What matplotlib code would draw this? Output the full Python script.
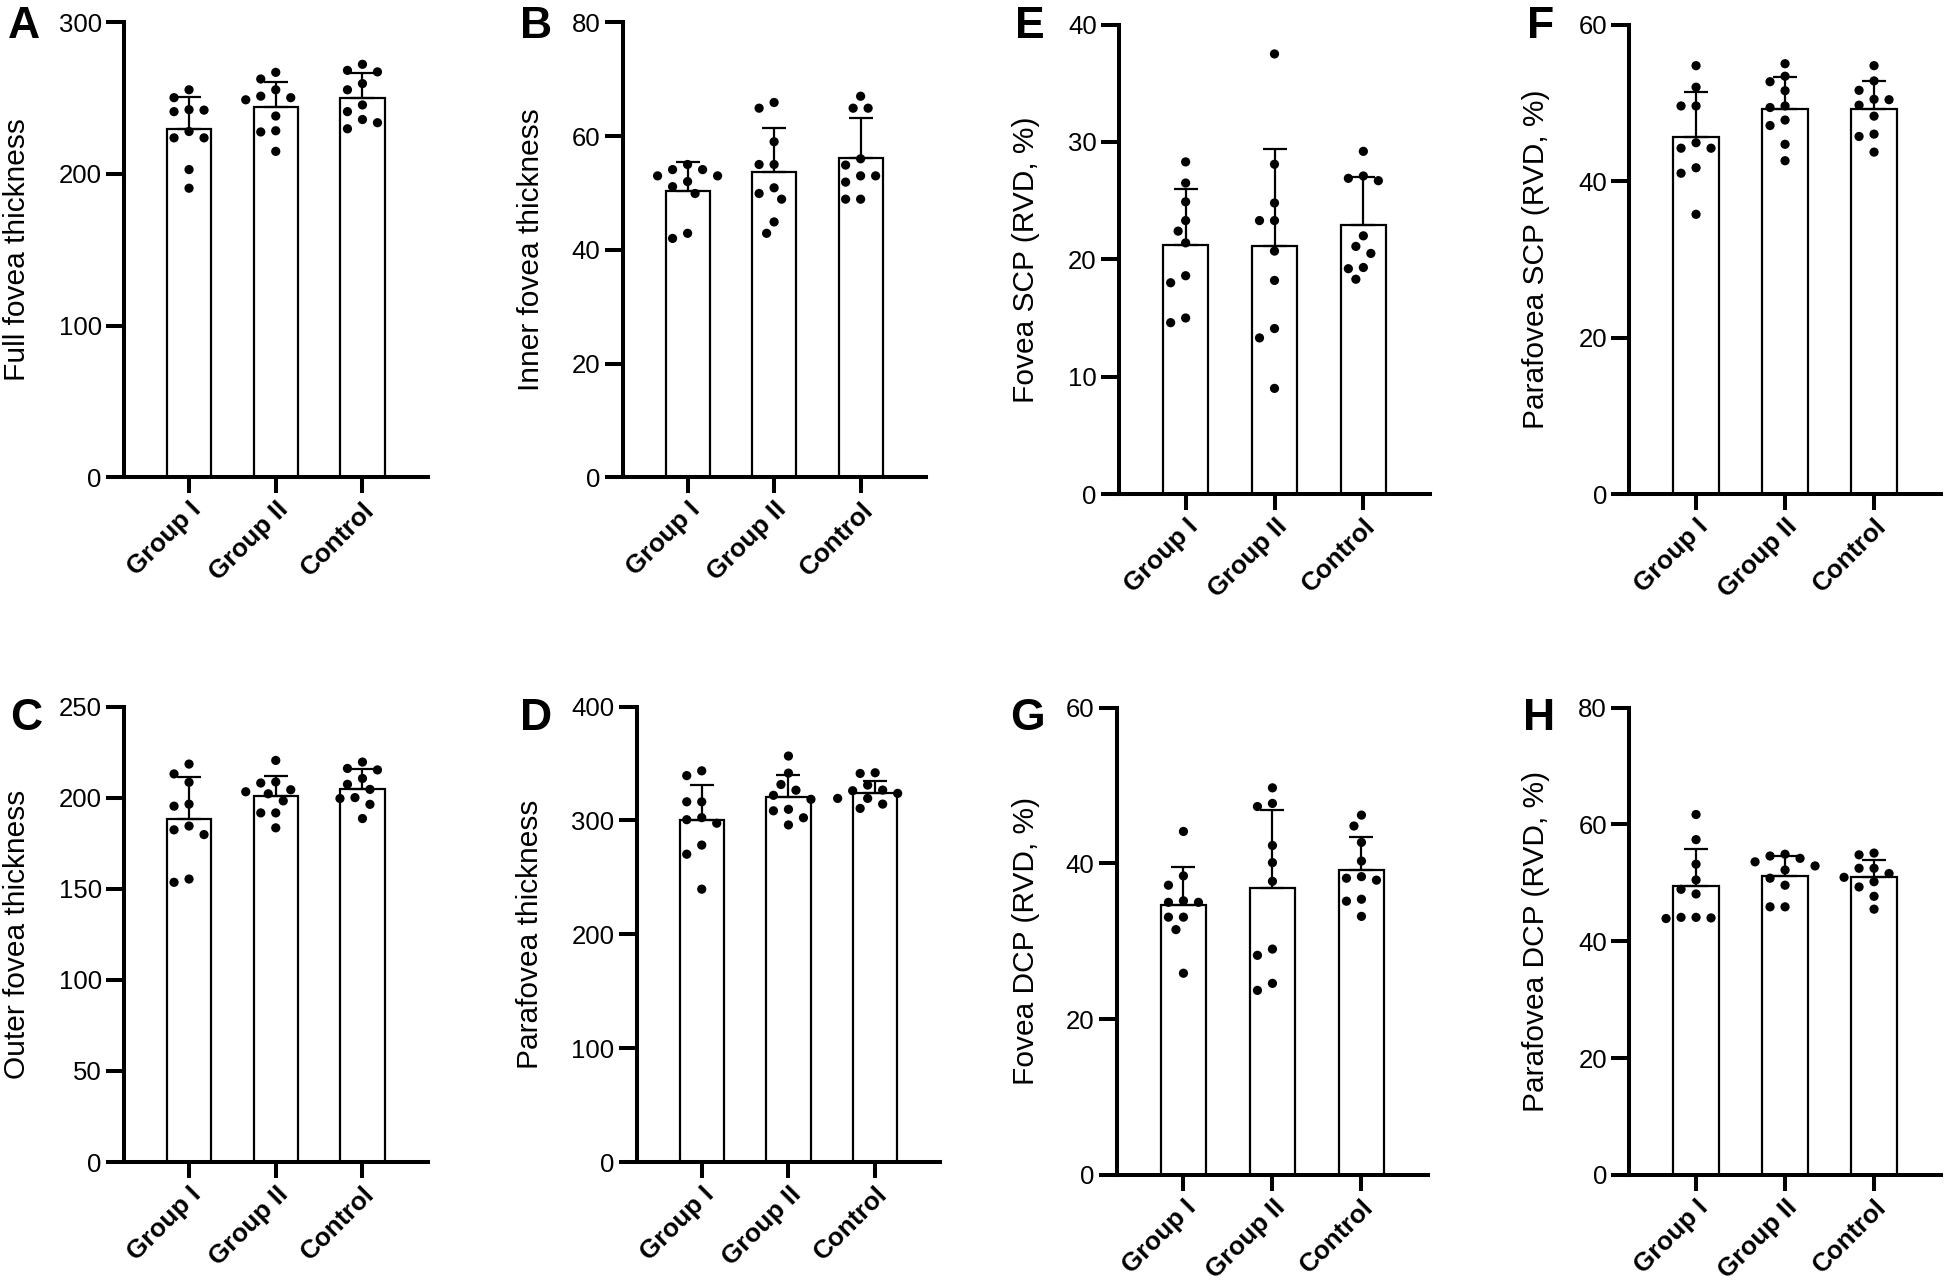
import matplotlib
matplotlib.use("Agg")
import matplotlib.pyplot as plt
import numpy as np

plt.rcParams['font.family'] = ['Liberation Sans', 'DejaVu Sans']

groups = ["Group I", "Group II", "Control"]

# ---- data ----
A_points = [[255.5, 250.3, 242.4, 242.1, 241.1, 228.0, 223.8, 223.8, 202.9, 190.6],
            [267.0, 262.6, 255.5, 251.3, 250.3, 248.9, 238.2, 228.5, 227.7, 214.9],
            [272.3, 268.3, 267.3, 259.6, 255.5, 245.5, 241.1, 235.9, 233.8, 229.8]]
A_mean = [229.8, 244.2, 250.3]
A_sd = [21.0, 16.5, 16.2]

B_points = [[55.0, 54.1, 54.1, 53.0, 53.0, 52.0, 51.1, 49.9, 42.9, 42.0],
            [65.9, 64.9, 59.0, 55.0, 55.0, 50.9, 49.9, 48.9, 44.9, 42.9],
            [67.0, 64.9, 64.9, 56.0, 54.9, 53.0, 53.0, 51.9, 48.9, 48.9]]
B_mean = [50.4, 53.7, 56.1]
B_sd = [5.0, 7.8, 7.1]

E_points = [[28.3, 26.5, 24.9, 23.3, 22.4, 21.4, 18.6, 18.0, 15.0, 14.6],
            [37.5, 28.1, 24.8, 23.3, 23.3, 20.7, 18.2, 14.1, 13.3, 9.0],
            [29.2, 27.1, 26.9, 26.7, 22.0, 21.1, 20.5, 19.3, 19.2, 18.3]]
E_mean = [21.2, 21.1, 22.9]
E_sd = [4.8, 8.3, 4.15]

F_points = [[54.75, 52.0, 49.6, 49.6, 44.9, 44.2, 44.2, 41.7, 41.0, 35.75],
            [55.0, 53.4, 52.7, 51.55, 49.6, 49.4, 47.8, 47.1, 44.7, 42.6],
            [54.75, 52.8, 51.6, 50.45, 50.4, 49.7, 48.3, 46.0, 45.7, 43.7]]
F_mean = [45.6, 49.2, 49.2]
F_sd = [5.8, 4.1, 3.6]

C_points = [[218.4, 213.0, 208.4, 196.4, 195.3, 184.4, 182.3, 179.7, 155.3, 153.5],
            [220.4, 208.6, 208.0, 204.3, 203.2, 202.1, 198.2, 191.6, 191.6, 183.4],
            [219.5, 216.0, 215.2, 210.5, 207.3, 204.5, 200.0, 199.5, 196.3, 188.5]]
C_mean = [188.4, 200.8, 204.7]
C_sd = [22.8, 11.1, 10.9]

D_points = [[343.5, 339.3, 316.3, 316.3, 302.4, 300.6, 297.5, 278.3, 270.3, 239.6],
            [356.5, 341.5, 331.5, 326.5, 322.0, 318.5, 309.7, 308.4, 302.3, 296.0],
            [341.8, 341.2, 331.0, 326.6, 326.0, 323.7, 319.3, 319.3, 314.3, 310.5]]
D_mean = [299.9, 320.2, 324.2]
D_sd = [31.4, 19.6, 10.6]

G_points = [[44.1, 38.4, 37.2, 35.2, 35.0, 35.0, 33.1, 33.1, 31.5, 25.9],
            [49.7, 47.7, 47.3, 42.3, 40.1, 37.7, 29.0, 28.2, 24.6, 23.7],
            [46.2, 44.8, 42.7, 40.3, 38.3, 38.1, 37.85, 35.4, 35.15, 33.2]]
G_mean = [34.7, 36.9, 39.1]
G_sd = [4.8, 10.0, 4.35]

H_points = [[61.7, 57.4, 53.2, 50.5, 48.9, 48.1, 44.1, 44.1, 44.0, 43.9],
            [54.9, 54.6, 54.2, 53.6, 52.9, 52.2, 50.8, 49.6, 45.9, 45.9],
            [55.1, 54.8, 52.5, 52.5, 51.6, 50.95, 50.2, 49.3, 47.7, 45.5]]
H_mean = [49.4, 51.2, 51.0]
H_sd = [6.35, 3.4, 2.95]

ylabels = {"A": "Full fovea thickness", "B": "Inner fovea thickness",
           "C": "Outer fovea thickness", "D": "Parafovea thickness",
           "E": "Fovea SCP (RVD, %)", "F": "Parafovea SCP (RVD, %)",
           "G": "Fovea DCP (RVD, %)", "H": "Parafovea DCP (RVD, %)"}
yticks = {"A": [0, 100, 200, 300], "B": [0, 20, 40, 60, 80],
          "C": [0, 50, 100, 150, 200, 250], "D": [0, 100, 200, 300, 400],
          "E": [0, 10, 20, 30, 40], "F": [0, 20, 40, 60],
          "G": [0, 20, 40, 60], "H": [0, 20, 40, 60, 80]}
data = {"A": (A_points, A_mean, A_sd), "B": (B_points, B_mean, B_sd),
        "C": (C_points, C_mean, C_sd), "D": (D_points, D_mean, D_sd),
        "E": (E_points, E_mean, E_sd), "F": (F_points, F_mean, F_sd),
        "G": (G_points, G_mean, G_sd), "H": (H_points, H_mean, H_sd)}

# ---- layout (pixels in 1944x1282 figure) ----
W, H = 1944, 1282
layout = {  # left, width, top, bottom, ylabel offset, letter x, letter y
    "A": (124.0, 303.5, 22.3, 477.3, 93, 8, 6),
    "B": (622.7, 302.8, 22.3, 477.3, 78, 520, 6),
    "E": (1119.0, 311.0, 24.6, 494.0, 79, 1015, 6),
    "F": (1629.3, 311.5, 24.6, 494.0, 79, 1527, 6),
    "C": (124.0, 303.5, 706.5, 1162.0, 93, 10, 698),
    "D": (636.7, 303.5, 706.5, 1162.0, 93, 520, 698),
    "G": (1116.7, 311.5, 707.6, 1175.0, 77, 1010, 698),
    "H": (1629.3, 311.5, 707.6, 1175.0, 79, 1523, 698),
}

fig = plt.figure(figsize=(W / 100, H / 100), dpi=100)

AXLW = 2.9


def swarm(vals, px_per_unit, min_d=12.5, step=7.5):
    order = np.argsort(-np.asarray(vals))
    placed = []
    offs = np.zeros(len(vals))
    cands = [0]
    for k in range(1, 10):
        cands += [-k, k]
    for i in order:
        y = vals[i] * px_per_unit
        for k in cands:
            x = k * step
            if all((x - px) ** 2 + (y - py) ** 2 >= min_d ** 2 for px, py in placed):
                break
        placed.append((x, y))
        offs[i] = x
    return offs


for key, (left, width, top, bottom, lab_off, lx, ly) in layout.items():
    pts, means, sds = data[key]
    ax = fig.add_axes([left / W, 1 - bottom / H, width / W, (bottom - top) / H])
    xs = np.arange(len(groups))
    ax.set_xlim(-0.75, 2.75)
    ymax = yticks[key][-1]
    ax.set_ylim(0, ymax)

    ax.bar(xs, means, width=0.51, color="white", edgecolor="black",
           linewidth=1.6, zorder=2)
    ax.errorbar(xs, means, yerr=[np.zeros(3), sds], fmt="none", ecolor="black",
                elinewidth=1.6, capsize=8.5, capthick=1.6, zorder=3)

    px_per_unit = (bottom - top) / ymax
    unit_px = width / 3.5
    for i, vals in enumerate(pts):
        offs = swarm(vals, px_per_unit)
        ax.scatter(i + offs / unit_px, vals, s=44, color="black",
                   edgecolors="none", zorder=4, clip_on=False)

    for s in ["top", "right"]:
        ax.spines[s].set_visible(False)
    for s in ["left", "bottom"]:
        ax.spines[s].set_linewidth(AXLW)
        ax.spines[s].set_capstyle("projecting")

    ax.set_yticks(yticks[key])
    ax.set_yticklabels([str(t) for t in yticks[key]], fontsize=18.5)
    ax.set_xticks(xs)
    ax.set_xticklabels(groups, fontsize=18.8, fontweight="bold", rotation=45,
                       ha="right", va="top", rotation_mode="anchor")
    ax.tick_params(axis="y", length=13, width=AXLW, pad=3)
    ax.tick_params(axis="x", length=11.5, width=AXLW, pad=3)

    ax.set_ylabel(ylabels[key], fontsize=21.5)
    ax.yaxis.set_label_coords(-lab_off / width, 0.5)

    fig.text(lx / W, 1 - ly / H, key, fontsize=32, fontweight="bold",
             ha="left", va="top")

fig.savefig("out.png", dpi=100)
